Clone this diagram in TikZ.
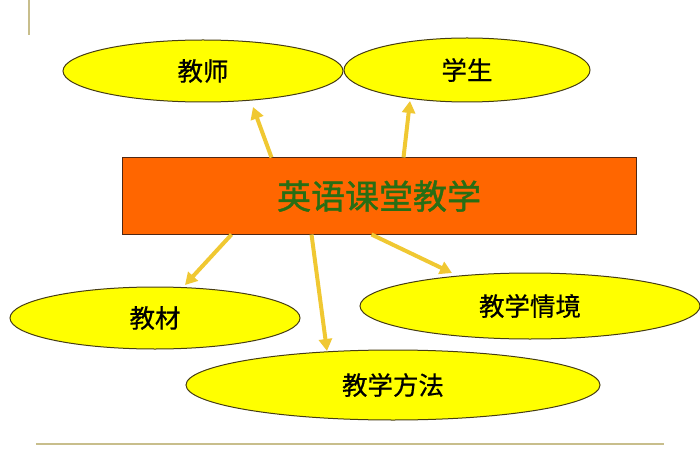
\documentclass[tikz,border=0pt]{standalone}
\usepackage{fontspec}
\setmainfont{Noto Sans CJK SC}
\newfontfamily\midfont[FakeBold=1.2]{Noto Sans CJK SC}
\newfontfamily\ellfont[FakeBold=0.6]{Noto Sans CJK SC}
\usetikzlibrary{shapes.geometric,arrows.meta,calc}
\definecolor{ellfill}{RGB}{255,255,0}
\definecolor{ellline}{RGB}{70,60,20}
\definecolor{boxfill}{RGB}{255,102,0}
\definecolor{boxline}{RGB}{80,40,20}
\definecolor{boxtext}{RGB}{40,110,20}
\definecolor{arrcol}{RGB}{240,200,50}
\definecolor{rulecol}{RGB}{200,190,140}
\tikzset{
  ell/.style={ellipse, draw=ellline, line width=1pt, fill=ellfill, inner sep=0pt, font=\ellfont\fontsize{25.5}{27}\selectfont},
  mainbox/.style={rectangle, draw=boxline, line width=1pt, fill=boxfill, inner sep=0pt, minimum width=514pt, minimum height=76pt, text=boxtext, font=\midfont\fontsize{34}{36}\selectfont},
  arr/.style={draw=arrcol, line width=4pt, -{Triangle[length=12pt,width=13pt]}, arrcol},
  rulel/.style={draw=rulecol, line width=1.5pt}
}
\begin{document}
\begin{tikzpicture}[x=1pt,y=-1pt]
\useasboundingbox (0,0) rectangle (700,470);
\coordinate (v1) at (29,0);
\coordinate (v2) at (29,35);
\draw[rulel] (v1) -- (v2);
\coordinate (b1) at (36,444);
\coordinate (b2) at (664,444);
\draw[rulel] (b1) -- (b2);

\node[ell, minimum width=280pt, minimum height=62pt] (teacher) at (203,71) {教师};
\node[ell, minimum width=246pt, minimum height=64pt] (student) at (467,70) {学生};
\node[mainbox] (main) at (379,196) {英语课堂教学};
\node[ell, minimum width=290pt, minimum height=62pt] (material) at (155,318) {教材};
\node[ell, minimum width=340pt, minimum height=66pt] (situation) at (530,306) {教学情境};
\node[ell, minimum width=414pt, minimum height=70pt] (method) at (393,385) {教学方法};

\coordinate (s1) at ($(main.north west)+(150,0)$);
\coordinate (s2) at ($(main.north west)+(282,0)$);
\coordinate (s3) at ($(main.south west)+(110,0)$);
\coordinate (s4) at ($(main.south west)+(190,0)$);
\coordinate (s5) at ($(main.south west)+(250,0)$);
\coordinate (e1) at (253,107);
\coordinate (e2) at (410,101);
\coordinate (e3) at (185,285);
\coordinate (e4) at (327,351);
\coordinate (e5) at (452,273);
\draw[arr] (s1) -- (e1);
\draw[arr] (s2) -- (e2);
\draw[arr] (s3) -- (e3);
\draw[arr] (s4) -- (e4);
\draw[arr] (s5) -- (e5);
\end{tikzpicture}
\end{document}
